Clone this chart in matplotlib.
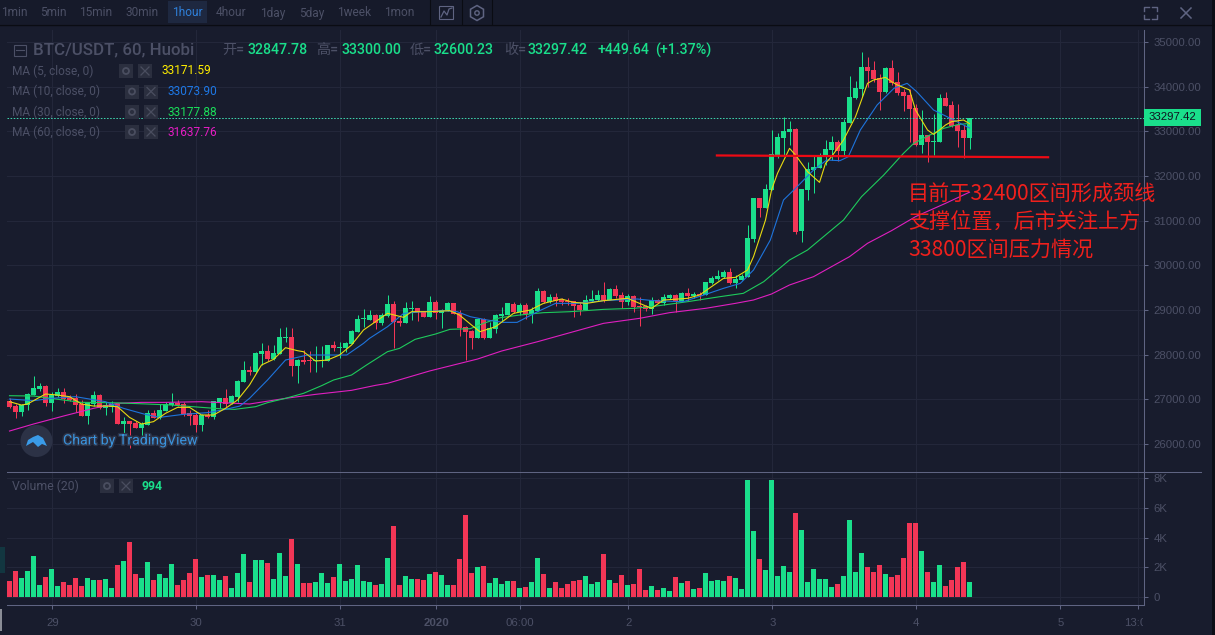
import matplotlib
matplotlib.use('Agg')
import matplotlib.pyplot as plt
from matplotlib.patches import Rectangle, Circle, Polygon, RegularPolygon
import matplotlib.patheffects as pe
from matplotlib.transforms import Bbox, TransformedBbox

#
# Hourly candles, one entry per bar
#
opens = [26960, 26850, 26715, 26870, 27095, 27230, 27300, 26915, 27075, 27165,
         27050, 27030, 26895, 26625, 26895, 27095, 26805, 26830, 26895, 26445,
         26515, 26470, 26360, 26425, 26695, 26580, 26740, 26870, 26915, 26895,
         26695, 26650, 26425, 26650, 26605, 26940, 27030, 26915, 27050, 27385,
         27655, 27610, 28015, 28080, 27900, 28015, 28370, 28395, 27745, 27880,
         27865, 27855, 27855, 27860, 28215, 28150, 28150, 28240, 28505, 28790,
         28775, 28885, 28700, 28865, 29135, 28750, 28710, 29020, 29045, 28975,
         28845, 29180, 28930, 28975, 29155, 28930, 28620, 28530, 28375, 28800,
         28375, 28575, 28865, 28885, 29135, 28955, 29110, 28910, 28975, 29425,
         29180, 29290, 29245, 29200, 29200, 29110, 29000, 29200, 29225, 29335,
         29225, 29470, 29335, 29180, 29315, 29090, 29090, 29020, 29225, 29155,
         29270, 29335, 29200, 29380, 29315, 29360, 29335, 29605, 29695, 29740,
         29850, 29605, 29670, 29745, 30585, 31510, 31285, 31690, 32470, 32850,
         32985, 33050, 30770, 31690, 32135, 32180, 32450, 32580, 32760, 32560,
         33185, 33745, 33950, 34440, 34375, 34195, 33880, 34420, 34105, 33880,
         33815, 33525, 32695, 32920, 32760, 32760, 33745, 33590, 33140, 33030,
         32848]
highs = [27020, 26895, 26895, 27135, 27520, 27365, 27320, 27165, 27255, 27255,
         27095, 27120, 26985, 26940, 27185, 27120, 26940, 26960, 26910, 26605,
         26515, 26515, 26490, 26760, 26760, 26895, 26940, 27140, 26985, 26940,
         26760, 26715, 26670, 26760, 26960, 27030, 27230, 27095, 27430, 27860,
         27745, 28060, 28260, 28215, 28215, 28595, 28620, 28595, 27900, 28105,
         28080, 28195, 28195, 28215, 28310, 28285, 28285, 28550, 28885, 29020,
         29000, 28910, 28925, 29335, 29195, 28845, 29170, 29195, 29045, 28975,
         29315, 29225, 29020, 29180, 29155, 29000, 28640, 28550, 28820, 28820,
         28730, 28910, 29065, 29155, 29180, 29155, 29155, 29065, 29490, 29445,
         29360, 29380, 29270, 29270, 29200, 29180, 29335, 29445, 29445, 29625,
         29490, 29560, 29400, 29360, 29335, 29290, 29110, 29290, 29245, 29360,
         29360, 29360, 29400, 29490, 29400, 29400, 29625, 29760, 29895, 29895,
         29940, 29785, 29805, 30905, 31510, 31510, 31820, 33030, 32965, 33320,
         33230, 33075, 31710, 32315, 32470, 32515, 32805, 32895, 32805, 33275,
         34240, 34125, 34775, 34665, 34575, 34285, 34440, 34600, 34330, 33950,
         33950, 33610, 33480, 32920, 33390, 33835, 33880, 33680, 33610, 33140,
         33300]
lows = [26800, 26580, 26625, 26760, 27095, 27185, 26850, 26740, 27060, 26925,
        26970, 26715, 26625, 26445, 26850, 26785, 26650, 26715, 26445, 26225,
        25910, 26360, 26180, 26425, 26580, 26565, 26740, 26850, 26850, 26625,
        26425, 26270, 26290, 26580, 26560, 26805, 26835, 26895, 26940, 27385,
        27545, 27590, 27770, 27860, 27880, 28015, 28285, 27520, 27365, 27790,
        27610, 27610, 27720, 27860, 28080, 27925, 28060, 28240, 28505, 28620,
        28775, 28580, 28665, 28850, 28150, 28640, 28710, 28775, 28755, 28845,
        28845, 28800, 28595, 28975, 28910, 28415, 27880, 28125, 28375, 28350,
        28375, 28475, 28755, 28885, 28930, 28885, 28800, 28710, 28975, 29155,
        29155, 29090, 29110, 29110, 28845, 28885, 29000, 29180, 29200, 29180,
        29225, 29270, 29045, 29110, 28955, 28640, 28975, 28910, 29150, 29110,
        29245, 28955, 29180, 29200, 29270, 29225, 29335, 29580, 29670, 29715,
        29580, 29490, 29670, 29730, 30530, 31080, 31285, 31690, 32405, 32450,
        32695, 30700, 30520, 31465, 31620, 32180, 32245, 32360, 32335, 32450,
        33180, 33725, 33770, 33995, 34105, 33480, 33860, 34035, 33815, 33455,
        32760, 32670, 32515, 32315, 32470, 32760, 33565, 33090, 32650, 32405,
        32600]
closes = [26830, 26715, 26870, 27120, 27255, 27300, 26915, 27095, 27165, 27005,
          26985, 26870, 26625, 26915, 27095, 26805, 26870, 26895, 26445, 26515,
          26445, 26360, 26445, 26695, 26580, 26760, 26895, 26915, 26870, 26670,
          26625, 26425, 26650, 26605, 26960, 27030, 26895, 27075, 27410, 27655,
          27610, 28035, 28080, 27900, 28035, 28395, 28395, 27745, 27880, 27835,
          27855, 27880, 27880, 28215, 28150, 28170, 28260, 28530, 28800, 28800,
          28885, 28710, 28885, 29135, 28730, 28710, 29045, 29045, 28955, 28845,
          29180, 28930, 29000, 29155, 28910, 28595, 28505, 28375, 28800, 28375,
          28595, 28885, 28910, 29155, 28955, 29110, 28910, 29000, 29425, 29180,
          29290, 29200, 29180, 29180, 29090, 29000, 29225, 29245, 29335, 29200,
          29470, 29315, 29180, 29315, 29065, 29065, 29020, 29225, 29155, 29290,
          29335, 29200, 29380, 29315, 29360, 29335, 29625, 29715, 29760, 29850,
          29605, 29695, 29760, 30610, 31510, 31285, 31710, 32495, 32875, 33010,
          33050, 30745, 31710, 32155, 32200, 32470, 32605, 32760, 32560, 33210,
          33770, 33970, 34440, 34350, 34170, 33880, 34420, 34080, 33860, 33790,
          33500, 32695, 32920, 32760, 32785, 33745, 33565, 33120, 33010, 32850,
          33297]
volumes = [1080, 1750, 1280, 1750, 2760, 810, 1350, 1890, 740, 1010,
           810, 1280, 740, 1280, 1150, 1150, 1210, 610, 2160, 2430,
           3710, 1550, 1280, 2360, 1150, 1550, 1280, 2220, 810, 1150,
           1620, 2560, 1350, 1480, 1480, 1150, 1420, 610, 1620, 2900,
           1010, 2490, 2490, 2290, 1210, 2970, 1420, 3910, 2220, 940,
           940, 1010, 1620, 940, 1350, 2220, 1080, 1210, 2160, 1080,
           1010, 810, 880, 2630, 4790, 810, 1420, 1210, 1210, 1150,
           1550, 1690, 1480, 810, 810, 2560, 5530, 1620, 2020, 2090,
           940, 1280, 880, 1080, 1080, 610, 670, 1010, 2630, 1550,
           610, 1010, 610, 880, 1080, 1150, 1420, 880, 1010, 2900,
           1150, 940, 1480, 810, 880, 1890, 470, 740, 470, 610,
           400, 1350, 940, 1080, 540, 610, 1620, 1080, 1150, 1080,
           1420, 1280, 540, 7890, 4450, 2560, 1820, 7890, 1420, 2090,
           1690, 5660, 4520, 1010, 1890, 1210, 1210, 670, 880, 1420,
           5190, 1690, 2970, 2020, 1690, 2160, 1550, 1350, 1480, 2630,
           4990, 4990, 3100, 1690, 1010, 2160, 740, 1150, 2020, 2360,
           994]

#
# Moving averages, read off at these bar numbers
#
ma5_x = [0, 2, 3, 5, 6, 8, 10, 12, 14, 16, 18, 20, 22, 24, 26, 28, 30, 32, 34, 36, 38, 40, 42, 44, 46, 48, 49, 51, 53, 55, 57,
         59, 61, 63, 65.7, 67, 70, 73.4, 75, 77, 78.4, 81, 84, 86.8, 89, 92, 94, 96.2, 99, 103, 105, 107, 109, 113, 115, 117,
         119, 121, 123, 124, 126, 127, 128, 130, 131, 133, 135, 136, 137, 139, 141, 143, 144, 146, 147, 148, 150, 151, 153,
         154, 155, 156, 157, 159, 160]
ma5_y = [26947, 26872, 26895, 27044, 27119, 27096, 27059, 26895, 26850, 26850, 26835, 26596, 26447, 26500, 26686, 26820,
         26820, 26649, 26649, 26798, 26984, 27320, 27768, 27895, 28156, 28089, 28066, 27858, 27880, 27992, 28216,
         28552, 28738, 28925, 28835, 28962, 28962, 28985, 28887, 28664, 28514, 28626, 28925, 29000, 29149, 29246, 29171,
         29149, 29209, 29261, 29149, 29037, 29223, 29261, 29335, 29522, 29708, 29731, 29895, 30194, 31015, 31687, 32060,
         32619, 32470, 32097, 31858, 32284, 32433, 32806, 33329, 34075, 34149, 34209, 34112, 34037, 33926, 33478, 33030,
         32933, 33030, 33142, 33217, 33254, 33172]
ma10_x = [0, 4, 7, 11, 16, 19, 22.4, 25, 29, 33, 36, 38.4, 40, 43, 46, 49.7, 53, 56.2, 59, 60, 63, 65.7, 69, 72.3, 74.6, 76.8,
          79.6, 82.3, 84.6, 88, 91, 94.6, 99, 104.6, 107.3, 112.3, 115.7, 119, 121.8, 124, 126.8, 129, 131, 134, 136.2,
          138.4, 139.8, 141.8, 144.6, 147.4, 149.6, 151.2, 154, 156.8, 160]
ma10_y = [27007, 26970, 27022, 27059, 26947, 26798, 26671, 26596, 26664, 26701, 26775, 26850, 27022, 27432, 27880, 27992,
          27992, 27992, 28253, 28365, 28626, 28925, 28962, 28985, 28962, 28850, 28776, 28723, 28723, 28962, 29149, 29149,
          29209, 29246, 29209, 29186, 29335, 29485, 29596, 29895, 30567, 31463, 31724, 32134, 32358, 32343, 32433, 33030,
          33590, 33963, 34075, 33888, 33478, 33291, 33074]
ma30_x = [0, 4, 9, 12, 17, 23, 27, 32, 35, 37.5, 41, 43, 46, 49, 52, 54, 57, 59.5, 63, 65, 67.6, 71, 73.4, 76.8, 79, 81.8, 85,
          89, 93.4, 99, 104, 107, 113, 118.4, 122.3, 125.7, 128, 130, 133, 136, 139, 142, 145.7, 149, 150.7, 153.4, 155.7,
          158, 160]
ma30_y = [27081, 27074, 26984, 26932, 26925, 26895, 26872, 26820, 26790, 26775, 26835, 26925, 27022, 27134, 27305, 27432,
          27544, 27768, 28067, 28141, 28343, 28462, 28567, 28582, 28701, 28828, 28887, 28940, 28962, 29014, 29037, 29074,
          29186, 29298, 29373, 29634, 29895, 30119, 30343, 30679, 31015, 31537, 32022, 32508, 32731, 32918, 33067, 33150,
          33178]
ma60_x = [0, 4, 9, 14, 18, 22, 26, 32, 40, 46, 51, 57, 61, 63, 70, 78, 82, 88, 93, 99, 105, 110, 116, 121, 124, 127, 130, 134,
          137, 140, 143, 147, 151, 156, 160]
ma60_y = [26290, 26447, 26626, 26798, 26910, 26932, 26932, 26947, 26895, 27022, 27111, 27201, 27313, 27358, 27634, 27902,
          28081, 28290, 28477, 28701, 28813, 28940, 29037, 29149, 29224, 29358, 29560, 29746, 29970, 30194, 30493, 30776,
          31090, 31388, 31638]

#
# Axis ticks
#
price_ticks = [26000, 27000, 28000, 29000, 30000, 31000, 32000, 33000, 34000, 35000]
volume_ticks = [0, 2000, 4000, 6000, 8000]
volume_tick_labels = ['0', '2K', '4K', '6K', '8K']
time_ticks = [7, 31, 55, 71, 85, 103, 127, 151, 175, 188]
time_labels = ['29', '30', '31', '2020', '06:00', '2', '3', '4', '5', '13:00']

periods = ['1min', '5min', '15min', '30min', '1hour', '4hour', '1day', '5day', '1week', '1mon']
period_x = [14, 53, 96, 142, 187, 231, 273, 312, 354, 399]

W, H = 1215, 635
BG = '#181c2d'
GRID = '#23273a'
AXIS = '#5f6482'
MUTED = '#4c5066'
UP = '#1adf8b'
DOWN = '#f23656'
YELLOW = '#e8da10'
BLUE = '#1e74dc'
GREEN = '#1ecb5c'
MAGENTA = '#e01fc0'


def px_box(x0, y0, x1, y1):
    return [x0 / W, 1 - y1 / H, (x1 - x0) / W, (y1 - y0) / H]


plt.rcParams['font.family'] = ['Roboto', 'Noto Sans CJK SC', 'DejaVu Sans']

fig = plt.figure(figsize=(W / 100, H / 100), dpi=100, facecolor=BG)
ax1 = fig.add_axes(px_box(7, 30, 1144, 471.5), facecolor=BG)
ax2 = fig.add_axes(px_box(7, 471.5, 1144, 605), facecolor=BG)
ov = fig.add_axes([0, 0, 1, 1], zorder=10)
ov.set_xlim(0, W)
ov.set_ylim(H, 0)
ov.axis('off')

x = list(range(len(closes)))
colors = [UP if c >= o else DOWN for o, c in zip(opens, closes)]

# candles
ax1.vlines(x, lows, highs, colors=colors, linewidth=0.72, zorder=3)
bottoms = [min(o, c) for o, c in zip(opens, closes)]
heights = [max(abs(c - o), 25) for o, c in zip(opens, closes)]
ax1.bar(x, heights, 0.82, bottom=bottoms, color=colors, linewidth=0, zorder=4)

ax1.plot(ma60_x, ma60_y, color=MAGENTA, lw=0.8, zorder=5)
ax1.plot(ma30_x, ma30_y, color=GREEN, lw=0.8, zorder=5)
ax1.plot(ma10_x, ma10_y, color=BLUE, lw=0.8, zorder=5)
ax1.plot(ma5_x, ma5_y, color=YELLOW, lw=0.8, zorder=6)

# neckline drawn on the chart
ax1.plot([117.9, 173.1], [32460, 32420], color='#ee0a14', lw=1.6, zorder=7)
ax1.axhline(closes[-1], color='#3fd8b0', lw=0.7, ls=(0, (1.6, 1.6)), zorder=6)

ax1.set_xlim(-0.417, 189.08)
ax1.set_ylim(25384, 35269)
ax1.yaxis.tick_right()
ax1.set_yticks(price_ticks)
ax1.set_yticklabels(['%.2f' % p for p in price_ticks])
ax1.set_xticks([t + 0.13 for t in time_ticks])
ax1.tick_params(axis='x', length=0, labelbottom=False)

ax2.bar(x, volumes, 0.82, color=colors, linewidth=0, zorder=3)
ax2.set_xlim(-0.417, 189.08)
ax2.set_ylim(-540, 8460)
ax2.yaxis.tick_right()
ax2.set_yticks(volume_ticks)
ax2.set_yticklabels(volume_tick_labels)
ax2.set_xticks([t + 0.13 for t in time_ticks])
ax2.set_xticklabels(time_labels)

for ax in (ax1, ax2):
    ax.grid(True, color=GRID, lw=0.75, zorder=0)
    ax.set_axisbelow(True)
    for s in ('top', 'left', 'bottom'):
        ax.spines[s].set_visible(False)
    ax.spines['right'].set_color(AXIS)
    ax.spines['right'].set_linewidth(0.75)
    ax.tick_params(axis='y', length=3, width=0.75, color=AXIS, labelcolor=MUTED, pad=4)
    for lab in ax.get_yticklabels():
        lab.set_fontfamily('Liberation Sans')
        lab.set_fontsize(8.2)
ax2.spines['bottom'].set_visible(True)
ax2.spines['bottom'].set_color(AXIS)
ax2.spines['bottom'].set_linewidth(0.75)
ax2.tick_params(axis='x', length=3, width=0.75, color=AXIS, labelcolor=MUTED, pad=6)
for lab in ax2.get_xticklabels():
    lab.set_fontfamily('Liberation Sans')
    lab.set_fontsize(8.2)
    if lab.get_text() == '2020':
        lab.set_fontweight('bold')
    if lab.get_text() == '13:00':
        lab.set_clip_on(True)
        lab.set_clip_box(TransformedBbox(Bbox([[1100, 610], [1143, 630]]), ov.transData))

# top toolbar and frame pieces
ov.add_patch(Rectangle((0, 0), W, 24, color='#161a2a', lw=0))
ov.plot([0, W], [24.5, 24.5], color='#0a0c13', lw=1)
ov.add_patch(Rectangle((168, 1), 39, 22, color='#1e2840', lw=0))
for name, px in zip(periods, period_x):
    ov.text(px, 13, name, color='#2f7fd8' if name == '1hour' else MUTED, fontsize=8.6, ha='center', va='center')
for px in (430, 462, 492):
    ov.plot([px, px], [0, 24], color='#0a0c13', lw=0.8)
ov.add_patch(Rectangle((439, 6), 14, 13, fill=False, ec=AXIS, lw=0.8))
ov.plot([441, 444, 447, 449, 452], [17, 11, 15, 9, 8], color=AXIS, lw=0.9)
ov.add_patch(RegularPolygon((477, 13), 6, radius=7.5, fill=False, ec=AXIS, lw=1.1))
ov.add_patch(Circle((477, 13), 2.2, fill=False, ec=AXIS, lw=1))
for sx, sy in ((1144, 7), (1157, 7), (1144, 19), (1157, 19)):
    hx = 1 if sx < 1150 else -1
    hy = 1 if sy < 13 else -1
    ov.plot([sx + 5 * hx, sx, sx], [sy, sy, sy + 4 * hy], color=AXIS, lw=1)
ov.plot([1181, 1191], [8, 18], color=AXIS, lw=1.1)
ov.plot([1181, 1191], [18, 8], color=AXIS, lw=1.1)
ov.plot([7, 1201], [471.5, 471.5], color=AXIS, lw=0.75)
ov.add_patch(Rectangle((1212, 0), 3, H, color='#0c0e16', lw=0))
ov.add_patch(Rectangle((0, 547), 5, 26, color='#123640', lw=0))
ov.add_patch(Rectangle((0, 609), 2, 22, color='#8a8d96', lw=0))

# last price flag
ov.add_patch(Rectangle((1144, 109), 57, 17, color=UP, lw=0))
ov.text(1172.5, 117.5, '33297.42', color='#10131f', fontsize=8.2, family='Liberation Sans', ha='center', va='center')

# symbol line
ov.add_patch(Rectangle((13.5, 44.5), 12, 11, fill=False, ec=MUTED, lw=0.8))
ov.plot([15.5, 23.5], [50, 50], color=MUTED, lw=0.8)
ov.text(33, 50, 'BTC/USDT, 60, Huobi', color=MUTED, fontsize=12.2, fontweight='medium', ha='left', va='center')
for txt, px, col in (('开=', 222, MUTED), ('32847.78', 247, UP), ('高=', 316, MUTED), ('33300.00', 341, UP),
                     ('低=', 410, MUTED), ('32600.23', 434, UP), ('收=', 504, MUTED), ('33297.42', 528, UP),
                     ('+449.64', 597, UP), ('(+1.37%)', 655, UP)):
    ov.text(px, 50, txt, color=col, fontsize=10.2, fontweight='medium', ha='left', va='center')


def study_buttons(x0, x1, y):
    for bx in (x0, x1):
        ov.add_patch(Rectangle((bx, y - 7), 14, 14, color='#2b2f3f', lw=0))
    ov.add_patch(Circle((x0 + 7, y), 3, fill=False, ec='#4a4e60', lw=1.3))
    ov.plot([x1 + 3, x1 + 11], [y - 4, y + 4], color='#4a4e60', lw=0.9)
    ov.plot([x1 + 3, x1 + 11], [y + 4, y - 4], color='#4a4e60', lw=0.9)


# study legends
for name, val, col, yy, b0, b1, vx in (('MA (5, close, 0)', '33171.59', '#ffee00', 71, 119, 138, 161),
                                       ('MA (10, close, 0)', '33073.90', '#1e78e6', 91.5, 125, 144, 168),
                                       ('MA (30, close, 0)', '33177.88', '#1adf5a', 112, 125, 144, 168),
                                       ('MA (60, close, 0)', '31637.76', '#e61cc4', 132, 125, 144, 168)):
    ov.text(12, yy, name, color=MUTED, fontsize=8.6, ha='left', va='center')
    study_buttons(b0, b1, yy)
    ov.text(vx, yy, val, color=col, fontsize=8.6, ha='left', va='center')
ov.text(12, 486, 'Volume (20)', color=MUTED, fontsize=8.8, ha='left', va='center')
study_buttons(100, 119, 486)
ov.text(142, 486, '994', color=UP, fontsize=8.8, fontweight='bold', ha='left', va='center')

# watermark
ov.add_patch(Circle((36.5, 441), 16, color='#2c3246', lw=0))
ov.add_patch(Polygon([(26, 446), (28, 440), (33, 437), (38, 435), (43, 438), (47, 446), (42, 444), (38, 447), (33, 442)],
                     color='#3a9be8', lw=0))
ov.text(63, 440.5, 'Chart by TradingView', color='#3a93dc', fontsize=10.2, ha='left', va='center',
        path_effects=[pe.withStroke(linewidth=2.2, foreground='#2c3246')])

# analyst note
for yy, line in ((195, '目前于32400区间形成颈线'), (223, '支撑位置，后市关注上方'), (250, '33800区间压力情况')):
    ov.text(908, yy, line, color='#f0201c', fontsize=15.2, ha='left', va='center',
            family=['Noto Sans CJK SC', 'DejaVu Sans'])

fig.savefig('out.png', dpi=100, facecolor=BG)
